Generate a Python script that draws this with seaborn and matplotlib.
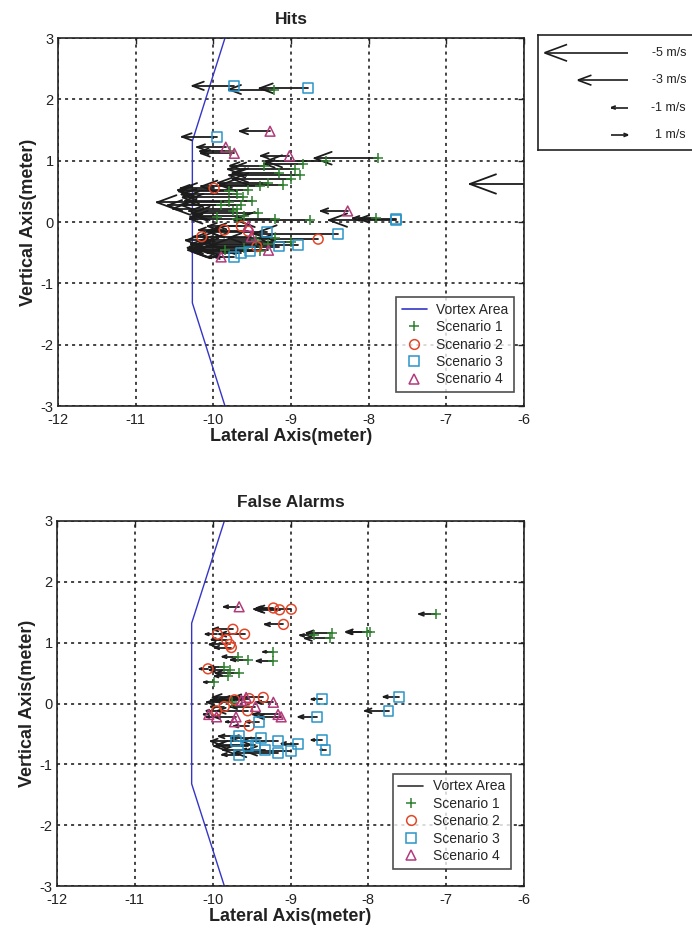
import numpy as np
import matplotlib
matplotlib.use("Agg")
import matplotlib.pyplot as plt
from matplotlib.collections import LineCollection
from matplotlib.lines import Line2D
import seaborn as sns

# ---------------- data ----------------
# vortex boundary (lateral, vertical)
vortex_x = [-9.85, -10.27, -10.27, -9.85]
vortex_y = [3.0, 1.32, -1.32, -3.0]

# Hits: tail positions (m) and lateral velocity (m/s)
hits_s1_x = [-7.88, -8.55, -8.85, -8.95, -8.89, -9.29, -9.15, -9.00, -9.55, -9.70, -9.62, -9.80,
             -9.80, -9.90, -9.70, -9.42, -9.60, -9.75, -9.95, -8.76, -9.20, -7.90, -9.22, -9.78,
             -9.45, -9.30, -9.60, -9.20, -9.85, -5.45,
             -9.40, -9.50, -9.65, -9.35, -9.10, -9.70, -9.00, -9.40]
hits_s1_y = [1.04, 0.99, 0.95, 0.86, 0.76, 0.64, 0.80, 0.70, 0.52, 0.45, 0.40, 0.50,
             0.32, 0.27, 0.22, 0.14, 0.10, 0.18, 0.08, 0.04, 0.05, 0.06, 2.16, 1.15,
             -0.30, -0.36, -0.42, -0.26, -0.45, 0.62,
             0.58, 0.35, 0.28, 0.92, 0.60, 0.05, -0.32, -0.48]
hits_s1_u = [-3.8, -3.6, -2.3, -4.0, -4.2, -3.0, -2.8, -3.5, -4.2, -3.3, -3.6, -3.0,
             -4.3, -3.2, -3.8, -4.0, -3.0, -2.6, -1.6, -4.5, -2.5, -1.4, -2.7, -1.8,
             -4.2, -4.6, -3.4, -2.8, -2.0, -5.8,
             -3.5, -4.0, -3.6, -2.0, -3.8, -2.8, -5.2, -4.0]

hits_s2_x = [-10.15, -9.99, -9.86, -9.64, -9.44, -8.65, -9.55]
hits_s2_y = [-0.24, 0.55, -0.13, -0.07, -0.40, -0.28, -0.15]
hits_s2_u = [-0.5, -2.0, -1.5, -2.0, -4.0, -3.5, -2.5]

hits_s3_x = [-9.73, -8.78, -9.95, -7.65, -7.65, -8.40, -9.31, -8.91, -9.15, -9.53, -9.73, -9.64]
hits_s3_y = [2.22, 2.18, 1.39, 0.03, 0.05, -0.19, -0.16, -0.38, -0.40, -0.48, -0.57, -0.50]
hits_s3_u = [-2.5, -2.9, -2.1, -4.0, -2.2, -5.0, -3.5, -5.2, -5.0, -3.5, -1.2, -2.0]

hits_s4_x = [-9.27, -9.84, -9.73, -9.02, -8.27, -9.90, -9.29, -9.55, -9.51]
hits_s4_y = [1.48, 1.22, 1.12, 1.08, 0.18, -0.57, -0.46, -0.07, -0.24]
hits_s4_u = [-1.8, -1.7, -2.0, -1.7, -1.6, -0.8, -4.8, -1.8, -3.0]

# False alarms
fa_s1_x = [-7.13, -7.98, -8.02, -8.47, -8.49, -8.70, -9.22, -9.22, -9.55, -9.68, -9.66, -9.78,
           -9.85, -9.80, -9.98, -9.75]
fa_s1_y = [1.47, 1.18, 1.17, 1.16, 1.07, 1.12, 0.85, 0.70, 0.72, 0.77, 0.50, 0.55,
           0.60, 0.45, 0.35, 0.02]
fa_s1_u = [-1.0, -1.4, -1.2, -1.5, -1.5, -0.8, -0.6, -1.0, -1.0, -0.9, -1.4, -1.2,
           -0.9, -0.8, -0.6, -1.5]

fa_s2_x = [-8.99, -9.14, -9.22, -9.09, -9.59, -9.74, -9.94, -9.78, -9.76, -9.82, -10.06, -9.35,
           -9.53, -9.72, -9.85, -9.95, -9.55, -9.53]
fa_s2_y = [1.55, 1.54, 1.57, 1.30, 1.14, 1.22, 1.14, 0.97, 0.92, 1.05, 0.57, 0.10,
           0.08, 0.06, -0.05, -0.12, -0.12, -0.37]
fa_s2_u = [-2.2, -1.4, -1.0, -1.1, -1.5, -1.2, -0.7, -1.2, -1.0, -0.9, -0.5, -1.8,
           -1.6, -1.4, -0.8, -0.6, -1.8, -0.9]

fa_s3_x = [-8.60, -8.66, -7.61, -7.74, -9.40, -9.66, -9.38, -9.16, -8.90, -8.60, -8.55, -8.99,
           -9.16, -9.66, -9.33, -9.55, -9.70, -9.45]
fa_s3_y = [0.07, -0.22, 0.11, -0.12, -0.30, -0.54, -0.57, -0.62, -0.66, -0.60, -0.76, -0.78,
           -0.81, -0.84, -0.76, -0.70, -0.62, -0.68]
fa_s3_u = [-0.6, -1.1, -0.9, -1.4, -0.8, -1.2, -1.8, -2.2, -1.0, -0.6, -0.3, -2.8,
           -2.6, -1.0, -2.5, -2.0, -1.5, -2.3]

fa_s4_x = [-9.66, -9.57, -9.63, -9.22, -9.16, -9.12, -9.70, -9.95, -10.05, -9.45, -9.72]
fa_s4_y = [1.59, 0.10, 0.05, 0.02, -0.18, -0.22, -0.22, -0.22, -0.18, -0.05, -0.30]
fa_s4_u = [-0.9, -2.0, -1.6, -1.0, -1.5, -1.4, -1.3, -0.6, -0.3, -1.5, -0.5]

# arrow scale legend
ref_speeds = [-5, -3, -1, 1]
ref_labels = ["-5 m/s", "-3 m/s", "-1 m/s", "1 m/s"]

scenario_labels = ["Scenario 1", "Scenario 2", "Scenario 3", "Scenario 4"]
scenario_markers = ["+", "o", "s", "^"]
scenario_colors = ["#2f7f2f", "#e2472a", "#2b94c6", "#b23a7c"]

K = 0.215  # m of arrow per m/s

# ---------------- style ----------------
sns.set_style("white")
plt.rcParams["font.family"] = ["Liberation Sans", "DejaVu Sans"]
plt.rcParams["axes.unicode_minus"] = False

fig = plt.figure(figsize=(6.92, 9.35), dpi=100)
W, H = 692.0, 935.0
ax1 = fig.add_axes([58 / W, 1 - 406 / H, 466 / W, 368 / H])
ax2 = fig.add_axes([57 / W, 1 - 886 / H, 467 / W, 365 / H])
axq = fig.add_axes([538 / W, 1 - 150 / H, 160 / W, 115 / H])


def draw_arrows(ax, xs, ys, us, px_x, px_y, zorder=2.5):
    segs = []
    for x, y, u in zip(xs, ys, us):
        L = K * u
        xh = x + L
        d = np.sign(L)
        hl = 0.27 * abs(L)
        hw = 0.10 * abs(L) * px_x / px_y
        segs.append([(x, y), (xh, y)])
        segs.append([(xh, y), (xh - d * hl, y + hw)])
        segs.append([(xh, y), (xh - d * hl, y - hw)])
    lc = LineCollection(segs, colors="#1c1c1c", linewidths=1.3, zorder=zorder,
                        capstyle="round", joinstyle="round")
    ax.add_collection(lc)


def panel(ax, title, data, vortex_color, legend_anchor):
    ax.set_xlim(-12, -6)
    ax.set_ylim(-3, 3)
    px_x = ax.bbox.width / 6.0
    px_y = ax.bbox.height / 6.0
    sns.lineplot(x=vortex_x, y=vortex_y, sort=False, estimator=None, ax=ax,
                 color="#3535c8", linewidth=1.0, zorder=2)
    for (xs, ys, us), m, c in zip(data, scenario_markers, scenario_colors):
        if m == "+":
            sns.scatterplot(x=xs, y=ys, ax=ax, marker=m, s=55, color=c,
                            linewidth=1.1, zorder=3, legend=False)
        else:
            sns.scatterplot(x=xs, y=ys, ax=ax, marker=m, s=50, facecolor="none",
                            edgecolor=c, linewidth=1.1, zorder=3, legend=False)
        draw_arrows(ax, xs, ys, us, px_x, px_y)
    ax.set_xticks(range(-12, -5))
    ax.set_yticks(range(-3, 4))
    ax.grid(True, color="#111111", linestyle=(0, (2, 2.6)), linewidth=1.1)
    ax.tick_params(direction="in", length=4, width=1, top=True, right=True,
                   labelsize=10.5, pad=3, colors="#222222")
    ax.tick_params(axis="x", pad=5)
    for sp in ax.spines.values():
        sp.set_color("#222222")
        sp.set_linewidth(1.2)
    ax.set_title(title, fontsize=12.5, fontweight="bold", pad=10, color="#222222")
    ax.set_xlabel("Lateral Axis(meter)", fontsize=13, fontweight="bold", labelpad=1,
                  color="#222222")
    ax.set_ylabel("Vertical Axis(meter)", fontsize=13, fontweight="bold", labelpad=3,
                  color="#222222")
    handles = [Line2D([], [], color=vortex_color, lw=1.2)]
    for m, c in zip(scenario_markers, scenario_colors):
        if m == "+":
            handles.append(Line2D([], [], ls="none", marker=m, color=c, ms=7, mew=1.1))
        else:
            handles.append(Line2D([], [], ls="none", marker=m, mfc="none", mec=c,
                                  ms=7, mew=1.1))
    leg = ax.legend(handles, ["Vortex Area"] + scenario_labels, loc="lower right",
                    bbox_to_anchor=legend_anchor, fontsize=10, frameon=True,
                    fancybox=False, handlelength=1.8, labelspacing=0.25,
                    borderpad=0.4, handletextpad=0.7, borderaxespad=0)
    leg.get_frame().set_edgecolor("#222222")
    leg.get_frame().set_linewidth(1.2)
    leg.set_zorder(5)


panel(ax1, "Hits",
      [(hits_s1_x, hits_s1_y, hits_s1_u), (hits_s2_x, hits_s2_y, hits_s2_u),
       (hits_s3_x, hits_s3_y, hits_s3_u), (hits_s4_x, hits_s4_y, hits_s4_u)],
      "#3535c8", (0.979, 0.038))
panel(ax2, "False Alarms",
      [(fa_s1_x, fa_s1_y, fa_s1_u), (fa_s2_x, fa_s2_y, fa_s2_u),
       (fa_s3_x, fa_s3_y, fa_s3_u), (fa_s4_x, fa_s4_y, fa_s4_u)],
      "#333333", (0.972, 0.047))

# velocity scale box
px_per_m = ax1.bbox.width / 6.0
axq.set_xlim(0, axq.bbox.width / px_per_m)
axq.set_ylim(3.55, -0.65)
pxq_y = axq.bbox.height / 4.2
anchor = (628 - 538) / px_per_m
rows = list(range(len(ref_speeds)))
tails = [anchor - max(0.0, K * u) for u in ref_speeds]
segs = []
for t, r, u in zip(tails, rows, ref_speeds):
    L = K * u
    xh = t + L
    d = np.sign(L)
    hl = 0.27 * abs(L)
    hw = 0.10 * abs(L) * px_per_m / pxq_y
    segs += [[(t, r), (xh, r)], [(xh, r), (xh - d * hl, r + hw)], [(xh, r), (xh - d * hl, r - hw)]]
axq.add_collection(LineCollection(segs, colors="#1c1c1c", linewidths=1.2))
for r, lab in zip(rows, ref_labels):
    axq.text((686 - 538) / px_per_m, r, lab, ha="right", va="center", fontsize=9,
             color="#222222")
axq.set_xticks([])
axq.set_yticks([])
for sp in axq.spines.values():
    sp.set_color("#222222")
    sp.set_linewidth(1.2)

fig.savefig("out.png", dpi=100)
